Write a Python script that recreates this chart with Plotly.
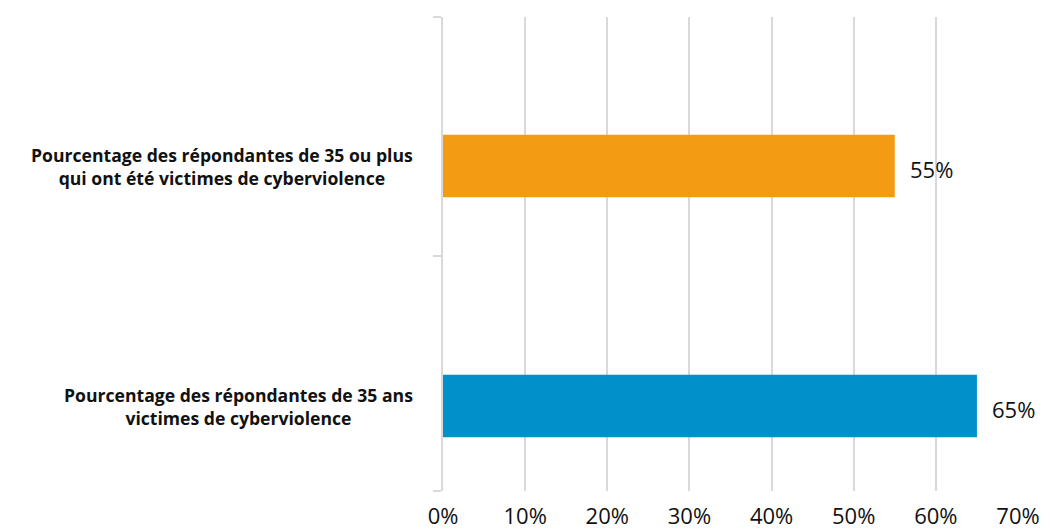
import plotly.graph_objects as go

# Survey share of respondents who experienced cyberviolence
categories = [
    "Pourcentage des répondantes de 35 ans<br>victimes de cyberviolence",
    "Pourcentage des répondantes de 35 ou plus<br>qui ont été victimes de cyberviolence",
]
values = [0.65, 0.55]
bar_colors = ["#0091CB", "#F39C13"]
x_ticks = [0, 0.1, 0.2, 0.3, 0.4, 0.5, 0.6, 0.7]

GRID = "#D9D9D9"
positions = list(range(len(categories)))

fig = go.Figure(
    go.Bar(
        x=values,
        y=positions,
        orientation="h",
        width=0.26,
        marker=dict(color=bar_colors, line=dict(width=0)),
        hoverinfo="skip",
    )
)

# value labels to the right of each bar
for pos, cat, v in zip(positions, categories, values):
    fig.add_annotation(
        x=v, y=pos, xref="x", yref="y",
        text=f"{v * 100:.0f}%",
        showarrow=False, xanchor="left", xshift=13, yshift=-3,
        font=dict(family="Open Sans", size=22, color="#111111"),
    )
    # centred, bold category labels left of the axis
    fig.add_annotation(
        x=0, y=pos, xref="paper", yref="y",
        text=f"<b>{cat}</b>",
        showarrow=False, xanchor="right", xshift=-28, align="center",
        font=dict(family="Open Sans", size=17.6, color="#111111"),
    )

fig.update_layout(
    width=1050, height=531,
    margin=dict(l=443, r=32, t=17, b=40, autoexpand=False),
    paper_bgcolor="white", plot_bgcolor="white",
    showlegend=False,
    xaxis=dict(
        range=[0, 0.7],
        tickvals=x_ticks,
        tickformat=".0%",
        showgrid=True, gridcolor=GRID, gridwidth=2,
        zeroline=False, showline=False, ticks="",
        ticklabelstandoff=10,
        automargin=False,
        tickfont=dict(family="Open Sans", size=22, color="#111111"),
        fixedrange=True,
    ),
    yaxis=dict(
        range=[-0.354, 1.621],
        tickmode="array",
        tickvals=[-0.352, 0.625, 1.619],
        showticklabels=False,
        automargin=False,
        showgrid=False, zeroline=False,
        showline=True, linecolor=GRID, linewidth=2,
        ticks="outside", ticklen=8, tickcolor=GRID, tickwidth=2,
        fixedrange=True,
    ),
)

fig.write_html("out.html")
